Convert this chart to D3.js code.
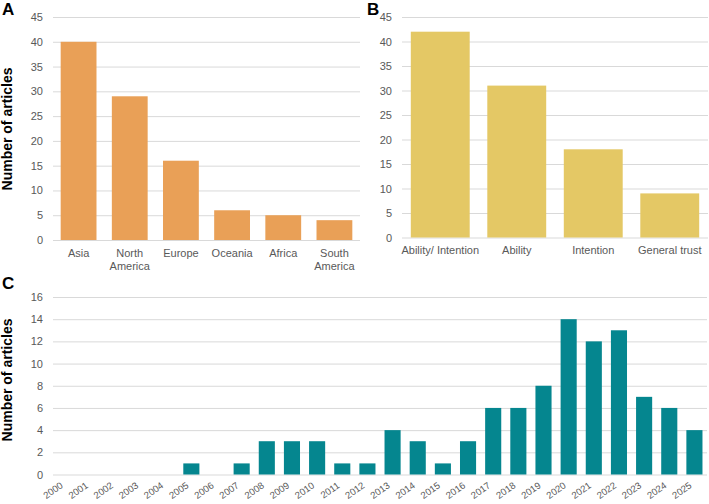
<!DOCTYPE html>
<html>
<head>
<meta charset="utf-8">
<script src="https://cdn.jsdelivr.net/npm/d3@7"></script>
<style>
  body { margin: 0; background: #fff; }
  svg { display: block; font-family: "Liberation Sans", Arial, sans-serif; }
  .tick text { fill: #595959; }
  .grid line { stroke: #d9d9d9; stroke-width: 1; }
</style>
</head>
<body>
<svg id="chart" width="709" height="504"></svg>
<script>
// panel A - region
var regions = ["Asia", "North\nAmerica", "Europe", "Oceania", "Africa", "South\nAmerica"];
var regionCounts = [40, 29, 16, 6, 5, 4];
// panel B - trust type
var trustTypes = ["Ability/ Intention", "Ability", "Intention", "General trust"];
var trustCounts = [42, 31, 18, 9];
// panel C - year
var years = ["2000","2001","2002","2003","2004","2005","2006","2007","2008","2009","2010","2011","2012",
             "2013","2014","2015","2016","2017","2018","2019","2020","2021","2022","2023","2024","2025"];
var yearCounts = [0, 0, 0, 0, 0, 1, 0, 1, 3, 3, 3, 1, 1, 4, 3, 1, 3, 6, 6, 8, 14, 12, 13, 7, 6, 4];
var yTicksAB = [0, 5, 10, 15, 20, 25, 30, 35, 40, 45];
var yTicksC = [0, 2, 4, 6, 8, 10, 12, 14, 16];

var svg = d3.select("#chart");

function panel(opts){
    var x = d3.scaleBand()
        .domain(opts.cats)
        .range([opts.x0, opts.x1])
        .paddingInner(opts.pad)
        .paddingOuter(opts.pad/2);
    var y = d3.scaleLinear()
        .domain([0, opts.max])
        .range([opts.y0, opts.y1]);
    var g = svg.append("g");

    // gridlines + y labels
    var ax = g.append("g")
        .attr("class", "grid")
        .attr("transform", "translate(" + opts.x0 + ",0)")
        .call(d3.axisLeft(y).tickValues(opts.ticks).tickSize(-(opts.x1 - opts.x0)).tickPadding(10));
    ax.select(".domain").remove();
    ax.selectAll("text").style("font-size", "11px");

    g.selectAll("rect.bar")
        .data(opts.vals)
        .enter().append("rect")
        .attr("class", "bar")
        .attr("x", function(d, i){ return x(opts.cats[i]); })
        .attr("y", function(d){ return y(d); })
        .attr("width", x.bandwidth())
        .attr("height", function(d){ return y(0) - y(d); })
        .attr("fill", opts.color);

    return {x: x, y: y, g: g};
}

// A
var pA = panel({cats: regions, vals: regionCounts, x0: 53, x1: 360, y0: 240, y1: 17,
    max: 45, ticks: yTicksAB, pad: 0.3, color: "#e9a057"});
var labA = pA.g.selectAll("text.cat").data(regions).enter().append("text")
    .attr("class", "cat")
    .attr("text-anchor", "middle")
    .attr("fill", "#595959")
    .style("font-size", "11px")
    .attr("transform", function(d){ return "translate(" + (pA.x(d) + pA.x.bandwidth()/2) + ",257)"; });
labA.each(function(d){
    var parts = d.split("\n");
    var t = d3.select(this);
    parts.forEach(function(p, k){
        t.append("tspan").attr("x", 0).attr("y", k*13).text(p);
    });
});

// B
var pB = panel({cats: trustTypes, vals: trustCounts, x0: 402, x1: 708, y0: 237.5, y1: 17,
    max: 45, ticks: yTicksAB, pad: 0.23, color: "#e4c865"});
pB.g.selectAll("text.cat").data(trustTypes).enter().append("text")
    .attr("class", "cat")
    .attr("text-anchor", "middle")
    .attr("fill", "#595959")
    .style("font-size", "11px")
    .attr("x", function(d){ return pB.x(d) + pB.x.bandwidth()/2; })
    .attr("y", 254)
    .text(function(d){ return d; });

// C
var pC = panel({cats: years, vals: yearCounts, x0: 53, x1: 707, y0: 474.5, y1: 297,
    max: 16, ticks: yTicksC, pad: 0.36, color: "#05868f"});
pC.g.selectAll("text.cat").data(years).enter().append("text")
    .attr("class", "cat")
    .attr("text-anchor", "end")
    .attr("fill", "#595959")
    .style("font-size", "9.5px")
    .attr("transform", function(d){
        return "translate(" + (pC.x(d) + pC.x.bandwidth()/2 - 2) + ",487) rotate(-35)";
    })
    .text(function(d){ return d; });

// axis titles
svg.append("text")
    .attr("transform", "translate(12,129) rotate(-90)")
    .attr("text-anchor", "middle")
    .style("font-size", "14px").style("font-weight", "bold")
    .text("Number of articles");
svg.append("text")
    .attr("transform", "translate(12,380) rotate(-90)")
    .attr("text-anchor", "middle")
    .style("font-size", "14px").style("font-weight", "bold")
    .text("Number of articles");

// panel letters
var letters = [["A", 2, 15], ["B", 367, 15], ["C", 2, 289]];
letters.forEach(function(l){
    svg.append("text").attr("x", l[1]).attr("y", l[2])
        .style("font-size", "17px").style("font-weight", "bold")
        .text(l[0]);
});
</script>
</body>
</html>
